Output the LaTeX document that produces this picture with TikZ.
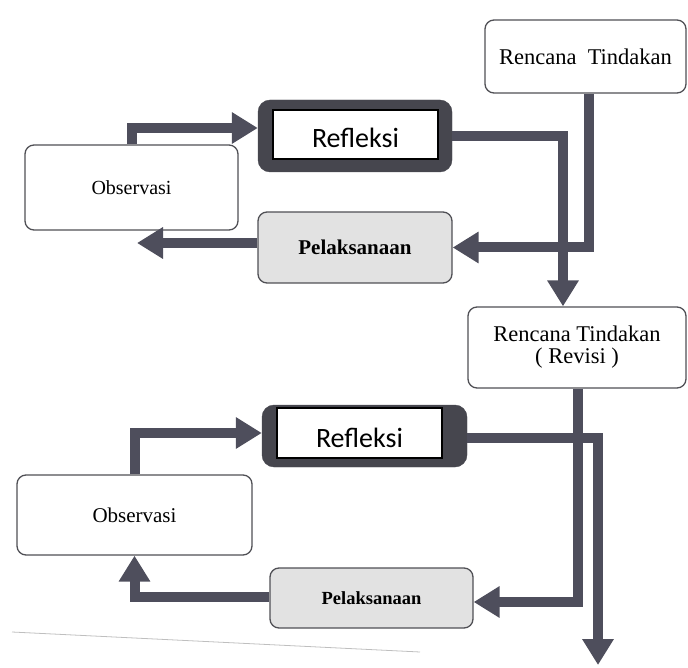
\documentclass[tikz,border=0pt]{standalone}
\usepackage{fontspec}
\setmainfont{Liberation Serif}
\newfontfamily\calib{Carlito}
\usetikzlibrary{arrows.meta}
\definecolor{arr}{RGB}{78,78,92}
\definecolor{darkbox}{RGB}{70,70,78}
\definecolor{bord}{RGB}{80,80,85}
\definecolor{pelfill}{RGB}{226,226,226}
\begin{document}
\begin{tikzpicture}[x=1pt,y=-1pt,
 box/.style={draw=bord, line width=1.3pt, rounded corners=9pt, fill=white, inner sep=0pt, align=center, font=\fontsize{20}{23}\selectfont},
 pelbox/.style={box, fill=pelfill},
 dbox/.style={draw=darkbox, fill=darkbox, rounded corners=12pt, inner sep=0pt},
 wbox/.style={draw=black, line width=1.2pt, fill=white, inner sep=0pt},
 rlabel/.style={font=\calib\fontsize{28}{30}\selectfont, anchor=base, inner sep=0pt},
 conn/.style={draw=arr, line width=10pt, line join=miter, -{Triangle[length=26pt,width=30pt]}}]

\useasboundingbox (0,0) rectangle (688,668);
\draw[black!25, line width=0.8pt] (12,632) -- (420,652);

% boxes
\node[box, minimum width=201pt, minimum height=73pt, font=\fontsize{22.5}{24}\selectfont] (rt1) at (585.5,56.5) {Rencana\ \ Tindakan};
\node[dbox, minimum width=194pt, minimum height=72pt] (refl1) at (355,136) {};
\node[wbox, minimum width=165pt, minimum height=49pt] (refl1w) at (355.5,134.5) {};
\node[rlabel] (refl1t) at (355.5,148) {Refleksi};
\node[pelbox, minimum width=194pt, minimum height=71pt, font=\bfseries\fontsize{21}{24}\selectfont] (pel1) at (355,247.5) {Pelaksanaan};
\node[box, minimum width=213pt, minimum height=85pt] (obs1) at (131.5,187.5) {Observasi};

\node[box, minimum width=218pt, minimum height=81pt, font=\fontsize{22.5}{22}\selectfont] (rtr) at (577,347.5) {Rencana Tindakan\\( Revisi )};
\node[dbox, minimum width=205pt, minimum height=62pt] (refl2) at (364.5,436) {};
\node[wbox, minimum width=165pt, minimum height=50pt] (refl2w) at (359.5,433) {};
\node[rlabel] (refl2t) at (359.5,447) {Refleksi};
\node[box, minimum width=235pt, minimum height=80pt, font=\fontsize{21}{23}\selectfont] (obs2) at (134.5,515) {Observasi};
\node[pelbox, minimum width=203pt, minimum height=60pt, font=\bfseries\fontsize{18.5}{21}\selectfont] (pel2) at (371.5,598) {Pelaksanaan};

\coordinate (tip1) at (137,243);
\coordinate (outc) at (598,665);

% connectors
\draw[conn] ([xshift=3.5pt]rt1.south) |- (pel1.east);
\draw[conn] (refl1.east) -| ([xshift=-14pt]rtr.north);
\draw[conn] (obs1.north) |- ([yshift=8pt]refl1.west);
\draw[conn] ([yshift=4.5pt]pel1.west) -- (tip1);

\draw[conn] ([xshift=1pt]rtr.south) |- ([yshift=-4pt]pel2.east);
\draw[conn] ([yshift=-2pt]refl2.east) -| (outc);
\draw[conn] (obs2.north) |- ([yshift=3pt]refl2.west);
\draw[conn] ([yshift=1pt]pel2.west) -| (obs2.south);
\end{tikzpicture}
\end{document}
